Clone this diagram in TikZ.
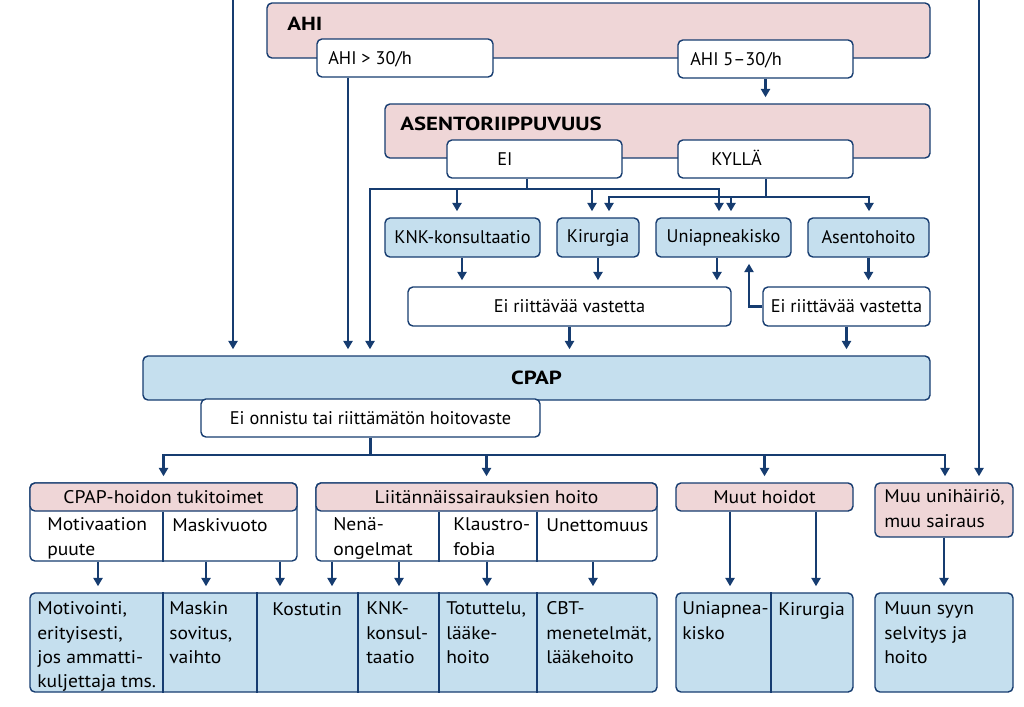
\documentclass[tikz,border=0pt]{standalone}
\usepackage{fontspec}
\setmainfont{PT Sans}
\newfontfamily\hdfont{PT Sans}[FakeStretch=1.2]
\newfontfamily\lowfont{PT Sans}[FakeStretch=1.07]
\usetikzlibrary{arrows.meta}
\definecolor{lc}{RGB}{22,60,112}
\definecolor{pk}{RGB}{239,214,215}
\definecolor{bl}{RGB}{197,223,238}

\begin{document}
\begin{tikzpicture}[x=0.025cm, y=-0.025cm,
  font=\fontsize{13}{17.3}\selectfont,
  box/.style={draw=lc, line width=1pt, rounded corners=3.5pt, inner sep=0pt},
  pbox/.style={box, fill=pk},
  bbox/.style={box, fill=bl},
  wbox/.style={box, fill=white},
  sz/.style 2 args={minimum width=#1*0.025cm, minimum height=#2*0.025cm},
  sep/.style={draw=lc, line width=1pt},
  ln/.style={draw=lc, line width=1.6pt},
  arr/.style={ln, -{Triangle[width=6.5pt,length=6pt]}, shorten >=4.3pt},
  txt/.style={anchor=base west, inner sep=0pt, align=left},
  low/.style={font=\lowfont\fontsize{13}{17.3}\selectfont},
  hd/.style={txt, font=\hdfont\bfseries\fontsize{13.5}{17}\selectfont}]
\useasboundingbox (0,0) rectangle (1024,706);

% upper part
\node[pbox, sz={663}{55}] (ahi) at (598.5,30.5) {};
\node[hd] (ahit) at (287,30) {AHI};
\node[wbox, sz={176}{38}] (ahi30) at (405,58) {};
\node[txt] (ahi30t) at (328,64) {AHI > 30/h};
\node[wbox, sz={175}{38}] (ahi530) at (765.5,59) {};
\node[txt] (ahi530t) at (690,65) {AHI 5–30/h};

\node[pbox, sz={545}{54}] (asento) at (657.5,131) {};
\node[hd] (asentot) at (400,130) {ASENTORIIPPUVUUS};
\node[wbox, sz={175}{38}] (ei) at (534.5,159) {};
\node[txt] (eit) at (497,165) {EI};
\node[wbox, sz={175}{38}] (kylla) at (765.5,159) {};
\node[txt] (kyllat) at (711,165) {KYLLÄ};

\node[bbox, sz={155}{39}] (knk) at (462.5,237.5) {KNK-konsultaatio};
\node[bbox, sz={82}{39}] (kir) at (598,237.5) {Kirurgia};
\node[bbox, sz={135}{39}] (kisko) at (723.5,237.5) {Uniapneakisko};
\node[bbox, sz={121}{39}] (asentoh) at (868.5,237.5) {Asentohoito};
\node[wbox, sz={323}{39}] (erv1) at (569.5,306.5) {Ei riittävää vastetta};
\node[wbox, sz={167}{39}] (erv2) at (846.5,306.5) {Ei riittävää vastetta};

\node[bbox, sz={787}{44}, font=\hdfont\bfseries\fontsize{13.5}{17}\selectfont] (cpap) at (536.5,378) {CPAP};
\node[wbox, sz={339}{38}] (eion) at (370.5,418) {Ei onnistu tai riittämätön hoitovaste};

% lower part
\begin{scope}[low]
\node[wbox, sz={267}{78}] (grpA) at (163.5,522) {};
\node[pbox, sz={267}{28}] (grpAh) at (163.5,497) {CPAP-hoidon tukitoimet};
\node[txt] (motiv) at (47,555.3) {Motivaation\\puute};
\node[txt] (maski) at (172,531) {Maskivuoto};
\node[wbox, sz={341}{78}] (grpB) at (486.5,522) {};
\node[pbox, sz={341}{28}] (grpBh) at (486.5,497) {Liitännäissairauksien hoito};
\node[txt] (nena) at (333,555.3) {Nenä-\\ongelmat};
\node[txt] (klaus) at (453,555.3) {Klaustro-\\fobia};
\node[txt] (unett) at (546,531) {Unettomuus};
\node[pbox, sz={177}{28}] (grpC) at (764.5,497) {Muut hoidot};
\node[pbox, sz={138}{54}] (grpD) at (944,510) {};
\node[txt] (grpDt) at (884,527.3) {Muu unihäiriö,\\muu sairaus};

\draw[sep] (163,0 |- grpAh.south) -- (163,0 |- grpA.south);
\draw[sep] (439,0 |- grpBh.south) -- (439,0 |- grpB.south);
\draw[sep] (537,0 |- grpBh.south) -- (537,0 |- grpB.south);

\node[bbox, sz={627}{99}] (lowA) at (343.5,642.5) {};
\node[bbox, sz={177}{99}] (lowB) at (764.5,642.5) {};
\node[bbox, sz={138}{99}] (lowC) at (944,642.5) {};
\foreach \x in {163,257,358,439,537}
  \draw[sep] (\x,0 |- lowA.north) -- (\x,0 |- lowA.south);
\draw[sep] (771,0 |- lowB.north) -- (771,0 |- lowB.south);

\node[txt] (motivt) at (37,687.9) {Motivointi,\\erityisesti,\\jos ammatti-\\kuljettaja tms.};
\node[txt] (maskit) at (169,663.6) {Maskin\\sovitus,\\vaihto};
\node[txt] (kostu) at (272,615) {Kostutin};
\node[txt] (knkt) at (366,663.6) {KNK-\\konsul-\\taatio};
\node[txt] (totut) at (446,663.6) {Totuttelu,\\lääke-\\hoito};
\node[txt] (cbt) at (546,663.6) {CBT-\\menetelmät,\\lääkehoito};
\node[txt] (kiskot) at (682,639.3) {Uniapnea-\\kisko};
\node[txt] (kirt) at (778,615) {Kirurgia};
\node[txt] (muun) at (884,663.6) {Muun syyn\\selvitys ja\\hoito};
\end{scope}

% connectors
\coordinate (inL) at (233,0);
\coordinate (inR) at (979,0);
\draw[arr] (inL) -- (inL |- cpap.north);
\draw[arr] (inR) -- (inR |- grpD.north);
\draw[arr] (348,0 |- ahi30.south) -- (348,0 |- cpap.north);
\draw[arr] (ahi530.south) -- (ahi530.south |- asento.north);

\coordinate (eiJ) at (527,189);
\draw[ln] (eiJ |- ei.south) -- (eiJ);
\draw[arr] (eiJ) -| (370,0 |- cpap.north);
\draw[arr] (eiJ) -| (719,0 |- kisko.north);
\draw[arr] (eiJ -| 457,0) -- (457,0 |- knk.north);
\draw[arr] (eiJ -| 592,0) -- (592,0 |- kir.north);

\coordinate (kyJ) at (766,197);
\draw[ln] (kyJ |- kylla.south) -- (kyJ);
\draw[arr] (kyJ) -| (609,0 |- kir.north);
\draw[arr] (kyJ) -| (869,0 |- asentoh.north);
\draw[arr] (kyJ -| 731,0) -- (731,0 |- kisko.north);

\draw[arr] (462,0 |- knk.south) -- (462,0 |- erv1.north);
\draw[arr] (kir.south) -- (kir.south |- erv1.north);
\draw[arr] (717,0 |- kisko.south) -- (717,0 |- erv1.north);
\draw[arr] (asentoh.south) -- (asentoh.south |- erv2.north);
\draw[arr] (erv2.west) -| (749,0 |- kisko.south);
\draw[arr] (erv1.south) -- (erv1.south |- cpap.north);
\draw[arr] (erv2.south) -- (erv2.south |- cpap.north);

\coordinate (eoJ) at (370.5,455);
\draw[ln] (eion.south) -- (eoJ);
\draw[arr] (eoJ) -| (grpAh.north);
\draw[arr] (eoJ) -| (945,0 |- grpD.north);
\draw[arr] (eoJ -| grpBh.north) -- (grpBh.north);
\draw[arr] (eoJ -| grpC.north) -- (grpC.north);

\foreach \x in {98,206,280}
  \draw[arr] (\x,0 |- grpA.south) -- (\x,0 |- lowA.north);
\foreach \x in {332,399,487,593}
  \draw[arr] (\x,0 |- grpB.south) -- (\x,0 |- lowA.north);
\foreach \x in {730,816}
  \draw[arr] (\x,0 |- grpC.south) -- (\x,0 |- lowB.north);
\draw[arr] (grpD.south) -- (grpD.south |- lowC.north);
\end{tikzpicture}
\end{document}
